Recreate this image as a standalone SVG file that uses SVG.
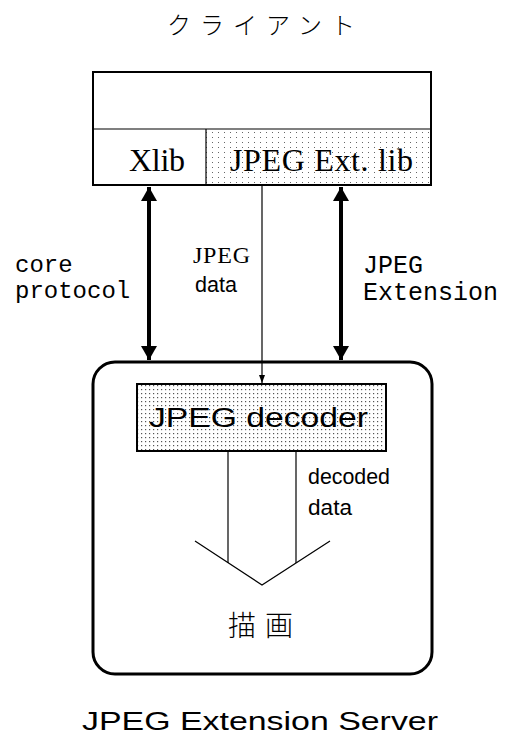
<svg xmlns="http://www.w3.org/2000/svg" width="505" height="742" viewBox="0 0 505 742">
<defs>
<pattern id="dots" width="6" height="5" patternUnits="userSpaceOnUse">
<rect x="2" y="2" width="1" height="1" fill="#666"/>
</pattern>
<pattern id="dots2" width="4" height="4" patternUnits="userSpaceOnUse">
<rect x="1" y="1" width="1.2" height="1.2" fill="#555"/>
</pattern>
<marker id="big" viewBox="0 0 14 16" refX="14" refY="8" markerWidth="14" markerHeight="16" markerUnits="userSpaceOnUse" orient="auto-start-reverse">
<path d="M0,0 L14,8 L0,16 Z" fill="#000"/>
</marker>
<marker id="small" viewBox="0 0 8 6" refX="8" refY="3" markerWidth="8" markerHeight="6" markerUnits="userSpaceOnUse" orient="auto">
<path d="M0,0 L8,3 L0,6 Z" fill="#000"/>
</marker>
</defs>
<style>
.box{fill:#fff;stroke:#000;stroke-width:2}
.serif{font-family:"Liberation Serif",serif;fill:#000}
.sans{font-family:"Liberation Sans",sans-serif;fill:#000}
.mono{font-family:"Liberation Mono",monospace;fill:#000}
.cjk{font-family:"Noto Sans CJK JP",sans-serif;fill:#000}
.thin{stroke:#000;stroke-width:1.2;fill:none}
.thick{stroke:#000;stroke-width:4;fill:none}
</style>
<rect width="505" height="742" fill="#fff"/>
<text class="cjk" x="167" y="34" font-size="24" font-weight="300" textLength="188" lengthAdjust="spacing">クライアント</text>
<g id="client">
<rect class="box" x="93" y="72" width="338" height="113"/>
<rect x="206" y="129" width="225" height="56" fill="url(#dots)"/>
<line class="thin" x1="93" y1="129" x2="431" y2="129" stroke-width="2"/>
<line class="thin" x1="206" y1="129" x2="206" y2="185" stroke-width="2"/>
<rect x="93" y="72" width="338" height="113" fill="none" stroke="#000" stroke-width="2"/>
<text class="serif" x="129" y="171" font-size="32" textLength="56">Xlib</text>
<text class="serif" x="230" y="171" font-size="32" textLength="183">JPEG Ext. lib</text>
</g>
<g id="server">
<rect x="93" y="362" width="339" height="312" rx="22" ry="22" fill="#fff" stroke="#000" stroke-width="3"/>
</g>
<g id="decoder">
<rect x="137" y="384" width="249" height="67" fill="url(#dots2)" stroke="#000" stroke-width="2"/>
<text class="sans" x="149" y="427" font-size="27" textLength="219" lengthAdjust="spacingAndGlyphs">JPEG decoder</text>
</g>
<g id="connectors">
<line class="thick" x1="149" y1="187" x2="149" y2="360" marker-start="url(#big)" marker-end="url(#big)"/>
<line class="thick" x1="341" y1="187" x2="341" y2="360" marker-start="url(#big)" marker-end="url(#big)"/>
<line class="thin" x1="262" y1="185" x2="262" y2="383" marker-end="url(#small)"/>
<line class="thin" x1="228" y1="451" x2="228" y2="563"/>
<line class="thin" x1="296" y1="451" x2="296" y2="563"/>
<polyline class="thin" stroke-width="1.5" points="195,541 262,585 330,541"/>
</g>
<g id="labels">
<text class="mono" x="15" y="272" font-size="24">core</text>
<text class="mono" x="15" y="298" font-size="24">protocol</text>
<text class="serif" x="193" y="263" font-size="24" textLength="57">JPEG</text>
<text class="sans" x="195" y="292" font-size="22" textLength="42" lengthAdjust="spacingAndGlyphs">data</text>
<text class="mono" x="363" y="273" font-size="25">JPEG</text>
<text class="mono" x="363" y="300" font-size="25">Extension</text>
<text class="sans" x="308" y="484" font-size="22" textLength="82" lengthAdjust="spacingAndGlyphs">decoded</text>
<text class="sans" x="308" y="515" font-size="22" textLength="44" lengthAdjust="spacingAndGlyphs">data</text>
<text class="cjk" x="228" y="636" font-size="28" font-weight="300" textLength="65" lengthAdjust="spacing">描画</text>
</g>
<text class="sans" x="82" y="730" font-size="26" textLength="356" lengthAdjust="spacingAndGlyphs">JPEG Extension Server</text>
</svg>
